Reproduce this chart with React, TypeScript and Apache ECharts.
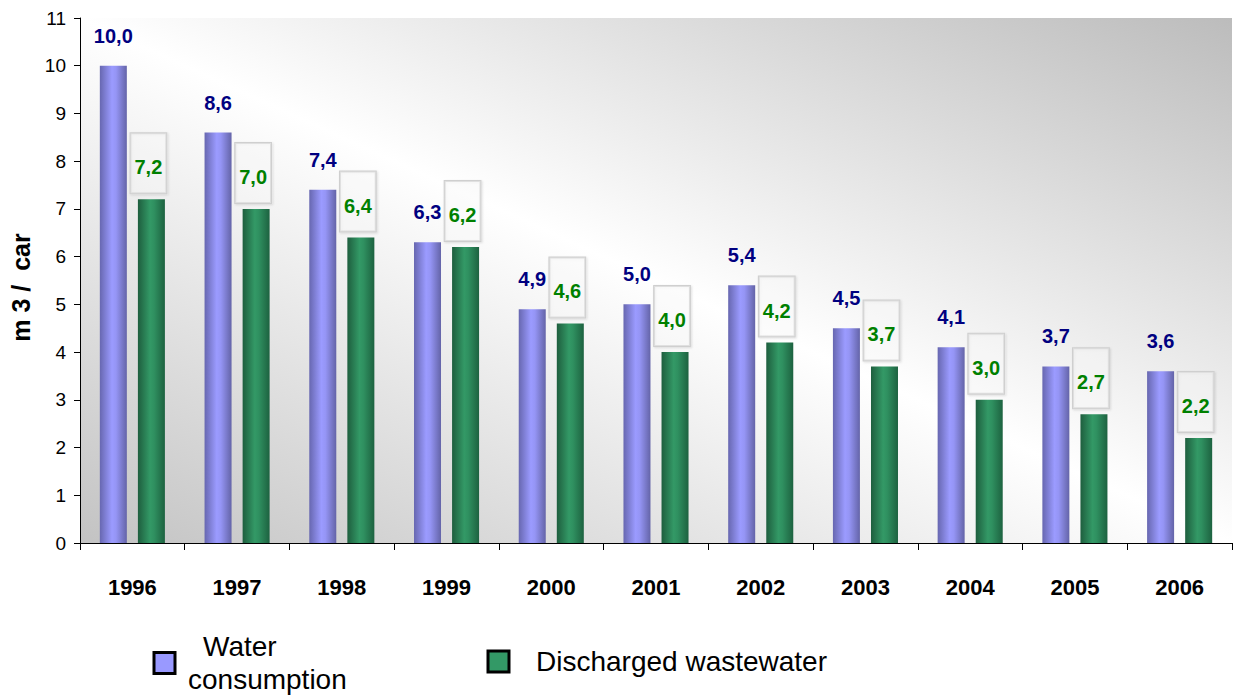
import React, { useEffect, useRef } from "react";
import * as echarts from "echarts";

const years = ["1996", "1997", "1998", "1999", "2000", "2001", "2002", "2003", "2004", "2005", "2006"];
const waterConsumption = [10.0, 8.6, 7.4, 6.3, 4.9, 5.0, 5.4, 4.5, 4.1, 3.7, 3.6];
const dischargedWastewater = [7.2, 7.0, 6.4, 6.2, 4.6, 4.0, 4.2, 3.7, 3.0, 2.7, 2.2];
const yTitle = "m 3 /  car";
const seriesNames = ["Water consumption", "Discharged wastewater"];

const ARIAL = "'Liberation Sans', Arial, sans-serif";

const fmt = (v: number) => v.toFixed(1).replace(".", ",");

export default function App() {
  const ref = useRef<HTMLDivElement>(null);
  useEffect(() => {
    if (!ref.current) return;
    const chart = echarts.init(ref.current, undefined, { renderer: "svg" });
    const blueGrad = new echarts.graphic.LinearGradient(0, 0, 1, 0, [
      { offset: 0, color: "#6767b0" },
      { offset: 0.45, color: "#9b9bff" },
      { offset: 0.6, color: "#9595f5" },
      { offset: 1, color: "#6464a8" },
    ]);
    const greenGrad = new echarts.graphic.LinearGradient(0, 0, 1, 0, [
      { offset: 0, color: "#1e5e3e" },
      { offset: 0.45, color: "#339966" },
      { offset: 0.6, color: "#2f9060" },
      { offset: 1, color: "#1d6240" },
    ]);
    chart.setOption({
      animation: false,
      grid: {
        left: 80,
        right: 7,
        top: 18,
        bottom: 152,
        show: true,
        borderWidth: 0,
        backgroundColor: new echarts.graphic.LinearGradient(0, 1, 1, 0, [
          { offset: 0, color: "#c3c3c3" },
          { offset: 0.5, color: "#ffffff" },
          { offset: 1, color: "#bcbcbc" },
        ]),
      },
      legend: [
        {
          data: [
            {
              name: seriesNames[0],
              itemStyle: { color: "#9999ff", borderColor: "#000", borderWidth: 3 },
            },
          ],
          left: 152.5,
          top: 630,
          padding: 0,
          icon: "rect",
          itemWidth: 21,
          itemHeight: 21,
          selectedMode: false,
          formatter: () => "{a|Water}\n{b|consumption}",
          textStyle: {
            fontFamily: ARIAL,
            fontSize: 28,
            lineHeight: 33,
            color: "#000",
            padding: [0, 0, 0, 8],
            rich: {
              a: { fontFamily: ARIAL, fontSize: 28, lineHeight: 33, padding: [0, 0, 0, 15] },
              b: { fontFamily: ARIAL, fontSize: 28, lineHeight: 33 },
            },
          },
        },
        {
          data: [
            {
              name: seriesNames[1],
              itemStyle: { color: "#339966", borderColor: "#000", borderWidth: 3 },
            },
          ],
          left: 486.5,
          top: 645,
          padding: 0,
          icon: "rect",
          itemWidth: 21,
          itemHeight: 21,
          selectedMode: false,
          textStyle: {
            fontFamily: ARIAL,
            fontSize: 28,
            lineHeight: 33,
            color: "#000",
            padding: [0, 0, 0, 22],
          },
        },
      ],
      xAxis: {
        type: "category",
        data: years,
        axisLine: { lineStyle: { color: "#000", width: 1 } },
        axisTick: { show: true, length: 7, lineStyle: { color: "#000" } },
        axisLabel: {
          margin: 33,
          fontFamily: ARIAL,
          fontWeight: "bold",
          fontSize: 22,
          color: "#000",
        },
      },
      yAxis: {
        type: "value",
        min: 0,
        max: 11,
        interval: 1,
        name: yTitle,
        nameLocation: "middle",
        nameRotate: 90,
        nameGap: 34,
        nameTextStyle: {
          fontFamily: ARIAL,
          fontWeight: "bold",
          fontSize: 25,
          color: "#000",
          padding: [0, 14, 0, 0],
        },
        axisLine: { show: true, lineStyle: { color: "#000", width: 1 } },
        axisTick: { show: true, length: 6, lineStyle: { color: "#000" } },
        splitLine: { show: false },
        axisLabel: {
          margin: 14,
          fontFamily: ARIAL,
          fontSize: 19,
          color: "#000",
        },
      },
      series: [
        {
          name: seriesNames[0],
          type: "bar",
          data: waterConsumption,
          barWidth: 27,
          barGap: "41%",
          itemStyle: { color: blueGrad },
          label: {
            show: true,
            position: "top",
            distance: 20,
            formatter: (p: any) => fmt(p.value),
            fontFamily: ARIAL,
            fontWeight: "bold",
            fontSize: 20,
            color: "#000080",
          },
        },
        {
          name: seriesNames[1],
          type: "bar",
          data: dischargedWastewater,
          barWidth: 27,
          itemStyle: { color: greenGrad },
          label: {
            show: true,
            position: "top",
            distance: 6,
            offset: [-3, 0],
            formatter: (p: any) => fmt(p.value),
            fontFamily: ARIAL,
            fontWeight: "bold",
            fontSize: 20,
            lineHeight: 20,
            color: "#008000",
            padding: [24, 4, 16, 4],
            borderColor: "#cfcfcf",
            borderWidth: 1,
            backgroundColor: "rgba(255,255,255,0.35)",
            shadowColor: "rgba(0,0,0,0.12)",
            shadowBlur: 2,
            shadowOffsetX: 1,
            shadowOffsetY: 1,
          },
        },
      ],
    });
    return () => chart.dispose();
  }, []);
  return (
    <div
      ref={ref}
      style={{ position: "fixed", left: 0, top: 0, width: 1239, height: 695, background: "#fff" }}
    />
  );
}
